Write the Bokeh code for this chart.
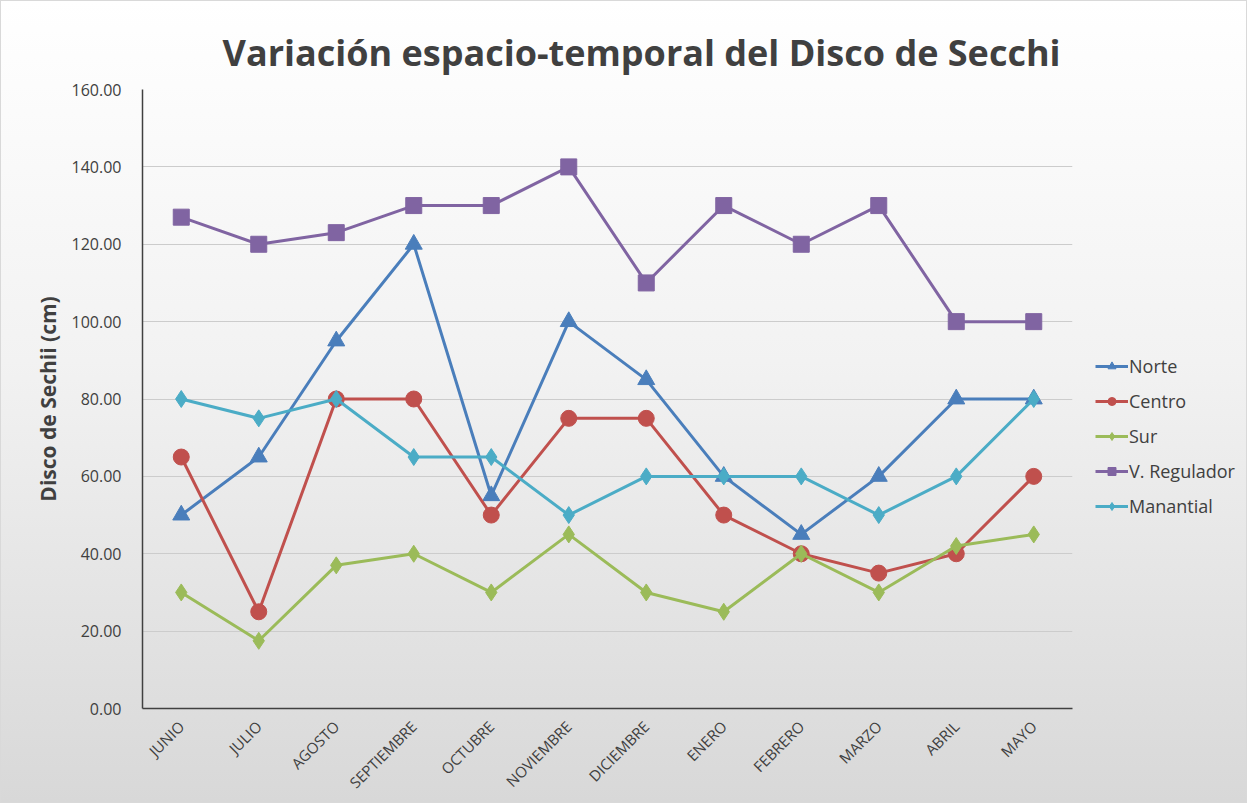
from bokeh.plotting import figure
from bokeh.layouts import row
from bokeh.models import (FactorRange, Range1d, NumeralTickFormatter, FixedTicker,
                          Legend, LegendItem)
from bokeh.embed import file_html
from bokeh.resources import INLINE

months = ["JUNIO", "JULIO", "AGOSTO", "SEPTIEMBRE", "OCTUBRE", "NOVIEMBRE",
          "DICIEMBRE", "ENERO", "FEBRERO", "MARZO", "ABRIL", "MAYO"]
norte = [50, 65, 95, 120, 55, 100, 85, 60, 45, 60, 80, 80]
centro = [65, 25, 80, 80, 50, 75, 75, 50, 40, 35, 40, 60]
sur = [30, 17.5, 37, 40, 30, 45, 30, 25, 40, 30, 42, 45]
regulador = [127, 120, 123, 130, 130, 140, 110, 130, 120, 130, 100, 100]
manantial = [80, 75, 80, 65, 65, 50, 60, 60, 60, 50, 60, 80]
y_ticks = [0, 20, 40, 60, 80, 100, 120, 140, 160]

FONT = "Open Sans"
TXT = "#404040"

p = figure(frame_width=930, frame_height=619, output_backend="svg", toolbar_location=None,
           x_range=FactorRange(*months, range_padding=0),
           y_range=Range1d(0, 160),
           min_border_left=141, min_border_right=2, min_border_top=88,
           min_border_bottom=88,
           title="Variación espacio-temporal del Disco de Secchi")
p.border_fill_color = None
p.background_fill_color = None
p.outline_line_color = None

p.title.text_font = FONT
p.title.text_font_style = "bold"
p.title.text_font_size = "36px"
p.title.text_color = TXT
p.title.align = "left"
p.title.offset = 80
p.title.standoff = 26

p.xgrid.grid_line_color = None
p.ygrid.grid_line_color = "#cccccc"
p.ygrid.grid_line_width = 1

p.yaxis.ticker = FixedTicker(ticks=y_ticks)
p.yaxis.formatter = NumeralTickFormatter(format="0.00")
p.yaxis.axis_label = "Disco de Sechii (cm)"
p.yaxis.axis_label_text_font = FONT
p.yaxis.axis_label_text_font_style = "bold"
p.yaxis.axis_label_text_font_size = "21px"
p.yaxis.axis_label_text_color = TXT
p.yaxis.axis_label_standoff = 7

for ax in (p.xaxis[0], p.yaxis[0]):
    ax.major_tick_line_color = None
    ax.minor_tick_line_color = None
    ax.axis_line_color = "#404040"
    ax.axis_line_width = 1.5
    ax.major_label_text_font = FONT
    ax.major_label_text_color = TXT
p.yaxis.major_label_text_font_size = "16px"
p.yaxis.major_label_standoff = 15
p.xaxis.major_label_text_font_size = "15px"
p.xaxis.major_label_orientation = 0.785
p.xaxis.major_label_standoff = 9

series = [
    ("Norte", norte, "#4a7ebb", "triangle", 17),
    ("Centro", centro, "#c0504d", "circle", 16),
    ("Sur", sur, "#9bbb59", "diamond", 17),
    ("V. Regulador", regulador, "#8064a2", "square", 16),
    ("Manantial", manantial, "#4bacc6", "diamond", 17),
]

# legend holder figure (its glyphs lie outside its own ranges, only the legend shows)
p2 = figure(width=172, height=795, output_backend="svg", toolbar_location=None,
            x_axis_location=None, y_axis_location=None,
            min_border=0, x_range=Range1d(-1, 0), y_range=Range1d(-1, 0))
p2.border_fill_color = None
p2.background_fill_color = None
p2.outline_line_color = None
p2.grid.visible = False

items = []
for name, vals, col, mk, sz in series:
    p.line(months, vals, line_color=col, line_width=3)
    p.scatter(months, vals, marker=mk, size=sz, fill_color=col, line_color=col)
    l2 = p2.line(x=vals, y=vals, line_color=col, line_width=3)
    s2 = p2.scatter(x=vals, y=vals, marker=mk, size=sz, fill_color=col, line_color=col)
    items.append(LegendItem(label=name, renderers=[l2, s2]))

legend = Legend(items=items, location=(21, 184), background_fill_alpha=0,
                border_line_color=None,
                label_text_font=FONT, label_text_font_size="18px",
                label_text_color=TXT, glyph_width=33, spacing=11,
                label_standoff=1, padding=4, margin=0)
p2.add_layout(legend, "center")

layout = row(p, p2, spacing=0)
layout.styles = {"background": "linear-gradient(to bottom, #ffffff 0%, #f2f2f2 45%, #d8d8d8 100%)",
                 "border": "1px solid #d9d9d9"}

open("out.html", "w").write(file_html(layout, INLINE))
